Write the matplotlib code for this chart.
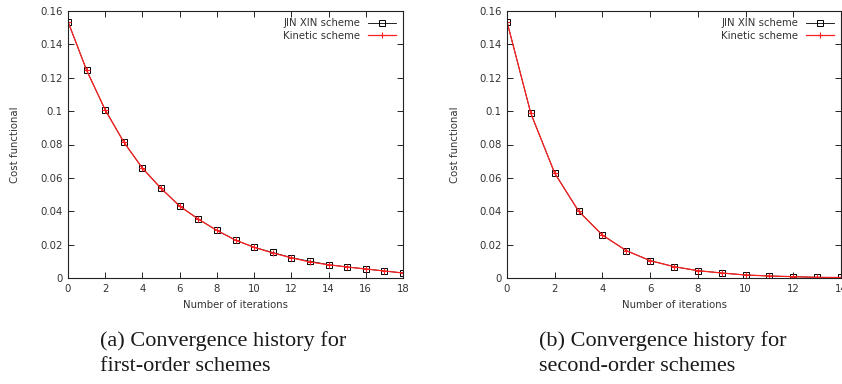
import matplotlib
matplotlib.use("Agg")
import matplotlib.pyplot as plt
import numpy as np

# Data
iters_first = list(range(0, 19))
jinxin_first = [0.1536, 0.1245, 0.1007, 0.0814, 0.0658, 0.0537, 0.0431, 0.0353, 0.0285,
                0.0227, 0.0184, 0.0153, 0.0122, 0.0100, 0.0080, 0.0066, 0.0054, 0.0042, 0.0030]
kinetic_first = [0.1536, 0.1245, 0.1007, 0.0814, 0.0658, 0.0537, 0.0431, 0.0353, 0.0285,
                 0.0227, 0.0184, 0.0150, 0.0121, 0.0096, 0.0079, 0.0066, 0.0054, 0.0042, 0.0030]

iters_second = list(range(0, 15))
jinxin_second = [0.1536, 0.0986, 0.0628, 0.0401, 0.0257, 0.0164, 0.0104, 0.0068, 0.0044,
                 0.0030, 0.0018, 0.0012, 0.0008, 0.0004, 0.0003]
kinetic_second = [0.1536, 0.0986, 0.0628, 0.0401, 0.0257, 0.0164, 0.0104, 0.0068, 0.0044,
                  0.0030, 0.0018, 0.0012, 0.0008, 0.0004, 0.0003]

yticks = [0, 0.02, 0.04, 0.06, 0.08, 0.1, 0.12, 0.14, 0.16]
ytick_labels = ["0", "0.02", "0.04", "0.06", "0.08", "0.1", "0.12", "0.14", "0.16"]
xticks_first = list(range(0, 19, 2))
xticks_second = list(range(0, 15, 2))

captions = ["(a) Convergence history for\nfirst-order schemes",
            "(b) Convergence history for\nsecond-order schemes"]

W, H = 842, 384
fig = plt.figure(figsize=(W / 100, H / 100), dpi=100)
plt.rcParams['font.family'] = ['DejaVu Sans']

tc = '#333333'

def make_axes(x0px, x1px, xs, jx, kn, xticks, xmax, caption):
    ax = fig.add_axes([x0px / W, 1 - 278 / H, (x1px - x0px) / W, (278 - 11) / H])
    ax.plot(xs, jx, color='black', lw=0.6, marker='s', ms=3.8, mfc='none', mec='black',
            mew=0.7, label='JIN XIN scheme')
    ax.plot(xs, kn, color='#ff2020', lw=0.9, marker='+', ms=4.5, mew=0.8, label='Kinetic scheme')
    ax.set_xlim(0, xmax)
    ax.set_ylim(0, 0.16)
    ax.set_xticks(xticks)
    ax.set_yticks(yticks)
    ax.set_yticklabels(ytick_labels)
    ax.tick_params(direction='in', top=True, right=True, length=4, width=0.6,
                   labelsize=7.3, labelcolor=tc, pad=4)
    for s in ax.spines.values():
        s.set_linewidth(0.8)
        s.set_color('#222222')
    ax.set_xlabel('Number of iterations', fontsize=7.3, color=tc, labelpad=5)
    ax.set_ylabel('Cost functional', fontsize=7.3, color=tc, labelpad=14)
    leg = ax.legend(loc='upper right', frameon=False, markerfirst=False, fontsize=7.3,
                    handlelength=2.8, handletextpad=0.7, labelspacing=0.25,
                    borderaxespad=0.3)
    for t in leg.get_texts():
        t.set_color(tc)
    fig.text((x0px + 32) / W, 1 - 331 / H, caption, fontsize=16, family='Liberation Serif',
             va='top', ha='left', linespacing=1.4, color='#1a1a1a')
    return ax

make_axes(68, 403, iters_first, jinxin_first, kinetic_first, xticks_first, 18, captions[0])
make_axes(507, 841, iters_second, jinxin_second, kinetic_second, xticks_second, 14, captions[1])

fig.savefig('out.png', dpi=100)
